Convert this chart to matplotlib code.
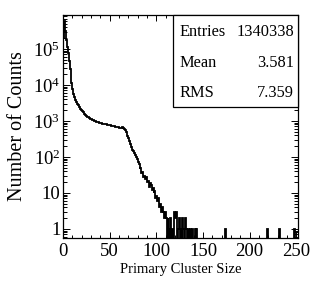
import numpy as np
import matplotlib
matplotlib.use("Agg")
import matplotlib.pyplot as plt
from matplotlib.ticker import FixedLocator, FuncFormatter, LogLocator, NullFormatter

plt.rcParams['font.family'] = ['Liberation Serif', 'DejaVu Serif']
plt.rcParams['mathtext.fontset'] = 'custom'
plt.rcParams['mathtext.rm'] = 'Liberation Serif'
plt.rcParams['mathtext.it'] = 'Liberation Serif:italic'

# counts per bin (bin width 1), bins 0..145
head_counts = [
    2.0e5, 5.8e5, 3.2e5, 1.8e5, 1.15e5, 7.5e4, 4.6e4, 2.8e4, 1.7e4, 1.1e4,
    7.5e3, 5.7e3, 4.6e3, 3.9e3, 3.4e3, 3.0e3, 2.7e3, 2.4e3, 2.2e3, 2.0e3,
    1850, 1720, 1600, 1500, 1420, 1350, 1300, 1250, 1200, 1150,
    1100, 1070, 1040, 1000, 980, 960, 940, 920, 900, 885,
    870, 860, 845, 830, 820, 810, 795, 785, 770, 760,
    750, 740, 730, 720, 715, 700, 690, 685, 670, 660,
    655, 650, 640, 660, 630, 610, 560, 500, 430, 390,
    330, 270, 230, 190, 160, 150, 125, 110, 100, 85,
    72, 65, 45, 50, 35, 38, 28, 30, 24, 27,
    20, 22, 15, 19, 17, 12, 14, 10, 11, 7,
    8, 6, 7, 4, 5, 3, 4, 3, 2, 3,
    2, 0, 2, 1, 0, 2, 0, 1, 0, 3,
    2, 3, 0, 1, 2, 0, 1, 0, 2, 1,
    0, 2, 1, 0, 1, 0, 1, 0, 1, 0,
    0, 1, 0, 1, 0, 0,
]
# isolated single entries further out
tail_bins = [174, 219, 232, 248]
tail_counts = [1, 1, 1, 1]

stat_names = ["Entries", "Mean", "RMS"]
stat_values = ["1340338", "3.581", "7.359"]

nbins = 252
counts = np.zeros(nbins)
counts[:len(head_counts)] = head_counts
counts[tail_bins] = tail_counts
edges = np.arange(nbins + 1)

fig = plt.figure(figsize=(3.32, 2.87), dpi=100)
ax = fig.add_axes([0.19, 0.171, 0.708, 0.777])

draw = np.where(counts > 0, counts, 1e-3)
ax.stairs(draw, edges, baseline=1e-3, color='black', linewidth=1.3)

ax.set_yscale('log')
ax.set_xlim(0, 252)
ax.set_ylim(0.56, 8.8e5)

ax.xaxis.set_major_locator(FixedLocator([0, 50, 100, 150, 200, 250]))
ax.xaxis.set_minor_locator(FixedLocator(np.arange(0, 251, 10)))
ax.yaxis.set_major_locator(LogLocator(base=10, numticks=10))
ax.yaxis.set_minor_locator(LogLocator(base=10, subs=np.arange(2, 10), numticks=20))
ax.yaxis.set_minor_formatter(NullFormatter())


def ylab(v, pos):
    n = int(round(np.log10(v)))
    if n == 0:
        return '1'
    if n == 1:
        return '10'
    return r'$10^{%d}$' % n


ax.yaxis.set_major_formatter(FuncFormatter(ylab))

ax.tick_params(which='both', direction='in', top=True, right=True, labelsize=13.5, width=0.7)
ax.tick_params(axis='x', which='major', length=4, pad=3.5)
ax.tick_params(axis='x', which='minor', length=2.2)
ax.tick_params(axis='y', which='major', length=5, pad=2)
ax.tick_params(axis='y', which='minor', length=2.8)
for s in ax.spines.values():
    s.set_linewidth(0.9)

ax.set_xlabel('Primary Cluster Size', fontsize=10.5, labelpad=2)
ax.set_ylabel('Number of Counts', fontsize=14.5, labelpad=4)

# stats box in the top right corner
bx0, by0 = 173 / 332, 1 - 107 / 287
bw, bh = (298 - 173) / 332, (107 - 15) / 287
fig.patches.append(plt.Rectangle((bx0, by0), bw, bh, transform=fig.transFigure,
                                 facecolor='white', edgecolor='black', linewidth=0.9, zorder=6))
row_y = [32, 63, 93]
for name, val, ry in zip(stat_names, stat_values, row_y):
    fig.text(180 / 332, 1 - ry / 287, name, fontsize=11.8, va='center', ha='left', zorder=7)
    fig.text(294 / 332, 1 - ry / 287, val, fontsize=11.8, va='center', ha='right', zorder=7)

fig.savefig('out.png', dpi=100)
